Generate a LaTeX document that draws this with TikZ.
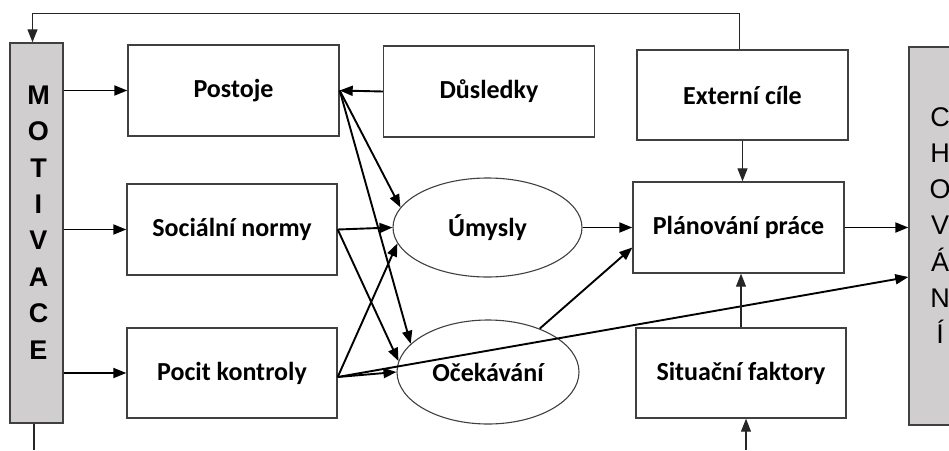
\documentclass[tikz,border=0pt]{standalone}
\usepackage{fontspec}
\setmainfont{Carlito}
\newfontfamily\barfont{Liberation Sans}
\usetikzlibrary{arrows.meta,shapes.geometric}
\definecolor{barfill}{RGB}{208,206,206}

\begin{document}
\begin{tikzpicture}[x=1pt,y=-1pt,
    box/.style={draw=black!75,line width=1.4pt,minimum width=211pt,minimum height=91pt,inner sep=0pt,font=\fontsize{26}{30}\selectfont\bfseries},
    oval/.style={ellipse,draw=black!75,line width=1.1pt,inner sep=0pt,font=\fontsize{26}{30}\selectfont\bfseries},
    bar/.style={draw=black!75,fill=barfill,line width=1.4pt,inner sep=0pt},
    bartext/.style={align=center,inner sep=0pt},
    arr/.style={-{Triangle[length=13pt,width=10pt]},line width=1.9pt},
    thinarr/.style={-{Triangle[length=13pt,width=10pt]},line width=1.2pt,black!85}]
    \useasboundingbox (0,0) rectangle (949,450);

    \node [bar,minimum width=53pt,minimum height=380pt] (motivace) at (36.5,233) {};
    \node [bar,minimum width=62pt,minimum height=378pt] (chovani) at (940,236) {};
    \node [bartext,font=\barfont\fontsize{27}{36.4}\selectfont\bfseries] (motivacetxt) at (38.5,222.5) {M\\O\\T\\I\\V\\A\\C\\E};
    \node [bartext,font=\barfont\fontsize{27}{36.2}\selectfont] (chovanitxt) at (940,225.5) {C\\H\\O\\V\\Á\\N\\Í};

    \node [box] (postoje) at (233.5,90.5) {Postoje};
    \node [box] (dusledky) at (489,91.5) {Důsledky};
    \node [box,minimum height=90pt] (externi) at (742.5,95) {Externí cíle};
    \node [box,minimum width=210pt] (socialni) at (232,229.5) {Sociální normy};
    \node [box,minimum width=210pt,minimum height=90pt] (pocit) at (232,373) {Pocit kontroly};
    \node [box] (planovani) at (738.5,227.5) {Plánování práce};
    \node [box,minimum width=210pt,minimum height=90pt] (situacni) at (741,373) {Situační faktory};

    \node [oval,minimum width=189pt,minimum height=99pt] (umysly) at (487.5,227.5) {Úmysly};
    \node [oval,minimum width=182pt,minimum height=104pt] (ocekavani) at (488,372) {Očekávání};

    \coordinate (motend) at (34,450);
    \coordinate (sitin) at (746,450);

    \draw [arr] (motivace.east |- postoje.east) -- (postoje.west);
    \draw [arr] (motivace.east |- socialni.east) -- (socialni.west);
    \draw [arr] (motivace.east |- pocit.east) -- (pocit.west);
    \draw [arr] (dusledky.west) -- (postoje.east);

    \draw [arr] (postoje.east) -- (umysly.167);
    \draw [arr] (postoje.east) -- (ocekavani.160);
    \draw [arr] (socialni.east) -- (umysly.west);
    \draw [arr] (socialni.east) -- (ocekavani.173);
    \draw [arr] ([yshift=-4pt]pocit.east) -- (umysly.190);
    \draw [arr] ([yshift=-4pt]pocit.east) -- (ocekavani.west);
    \draw [arr] ([yshift=-4pt]pocit.east) -- ([yshift=-41pt]chovani.west);

    \draw [arr] (umysly.east) -- (planovani.west);
    \draw [arr] (ocekavani.40) -- ([yshift=-20pt]planovani.west);
    \draw [arr] (planovani.east) -- (planovani.east -| chovani.west);
    \draw [thinarr] (externi.south) -- (externi.south |- planovani.north);
    \draw [thinarr] (situacni.north) -- (situacni.north |- planovani.south);
    \draw [thinarr] (sitin) -- (sitin |- situacni.south);
    \draw [line width=1.2pt,black!85] (motivace.south -| motend) -- (motend);
    \draw [thinarr] ([xshift=-3pt]externi.north) -- ++(0,-36) -| ([xshift=-4pt]motivace.north);
\end{tikzpicture}
\end{document}
